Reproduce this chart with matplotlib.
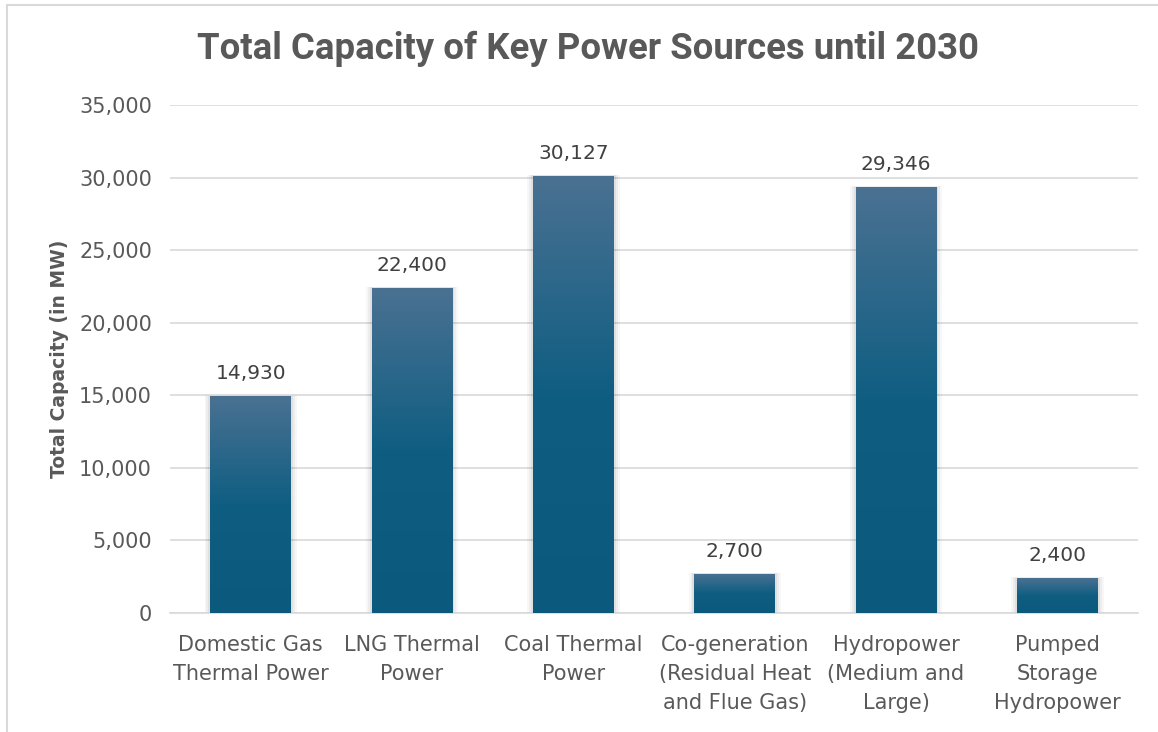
import numpy as np
import matplotlib
matplotlib.use("Agg")
import matplotlib.pyplot as plt
import matplotlib.patches as patches
from matplotlib.colors import LinearSegmentedColormap

categories = ["Domestic Gas\nThermal Power", "LNG Thermal\nPower", "Coal Thermal\nPower",
              "Co-generation\n(Residual Heat\nand Flue Gas)", "Hydropower\n(Medium and\nLarge)",
              "Pumped\nStorage\nHydropower"]
capacity = [14930, 22400, 30127, 2700, 29346, 2400]
yticks = [0, 5000, 10000, 15000, 20000, 25000, 30000, 35000]

gray = "#595959"
fig = plt.figure(figsize=(11.58, 7.32), dpi=100)
ax = fig.add_axes([0.1468, 0.1626, 0.836, 0.6940])

# frame around chart
fig.patches.append(patches.Rectangle((0.006, -0.05), 1.2, 1.043, transform=fig.transFigure,
                                     fill=False, edgecolor="#d9d9d9", linewidth=1.5))

x = np.arange(len(categories))
bars = ax.bar(x, capacity, width=0.5, color="none", zorder=3)

# gradient fill, lighter at the top
cmap = LinearSegmentedColormap.from_list("g", [(0, "#0b5a7e"), (0.5, "#0f5e82"), (1, "#4a7192")])
grad = np.linspace(0, 1, 256).reshape(-1, 1)
for b in bars:
    x0, y0, w, h = b.get_x(), b.get_y(), b.get_width(), b.get_height()
    # soft shadow
    for i, a in enumerate([0.05, 0.04, 0.03]):
        d = 0.012 * (i + 1)
        ax.add_patch(patches.Rectangle((x0 - d, y0), w + 2 * d, h + d * 2200, color="k",
                                       alpha=a, linewidth=0, zorder=2))
    im = ax.imshow(grad, extent=[x0, x0 + w, y0, y0 + h], origin="lower", cmap=cmap,
                   aspect="auto", zorder=3)
    im.set_clip_path(b)
    ax.text(x0 + w / 2, h + 900, f"{h:,.0f}", ha="center", va="bottom", fontsize=14.5,
            color="#404040", zorder=4)

ax.set_xlim(-0.5, len(categories) - 0.5)
ax.set_ylim(0, 35000)
ax.set_yticks(yticks)
ax.set_yticklabels([f"{v:,}" for v in yticks])
ax.set_xticks(x)
ax.set_xticklabels(categories, fontsize=15, color=gray, linespacing=1.56)
ax.tick_params(axis="y", labelsize=15, labelcolor=gray, length=0, pad=13)
ax.tick_params(axis="x", length=0, pad=16)
ax.grid(axis="y", color="#d9d9d9", linewidth=1.2, zorder=0)
for s in ["top", "right", "left"]:
    ax.spines[s].set_visible(False)
ax.spines["bottom"].set_color("#d9d9d9")
ax.spines["bottom"].set_linewidth(1.2)

ax.set_ylabel("Total Capacity (in MW)", fontsize=13.5, fontweight="bold", color=gray, labelpad=7)
fig.text(0.508, 0.933, "Total Capacity of Key Power Sources until 2030", ha="center", va="center",
         fontsize=26.3, fontweight="bold", color=gray,
         family=["Roboto", "DejaVu Sans"])

fig.savefig("out.png", dpi=100)
